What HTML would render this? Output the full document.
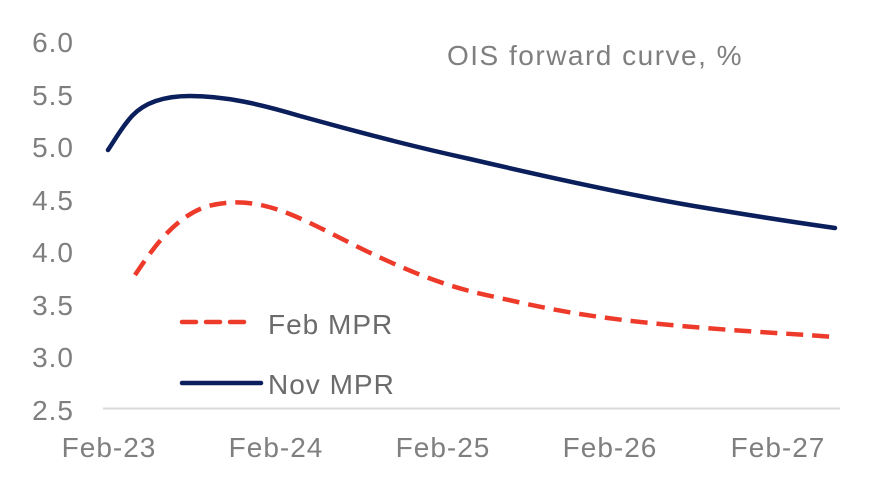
<!DOCTYPE html>
<html><head><style>body{margin:0;background:#fff}</style></head><body>
<svg width="872" height="482" xmlns="http://www.w3.org/2000/svg" font-family="Liberation Sans, sans-serif" fill="#7f7f7f" font-size="28" letter-spacing="1">
<g text-anchor="end">
<text x="74" y="52">6.0</text>
<text x="74" y="105">5.5</text>
<text x="74" y="157">5.0</text>
<text x="74" y="210">4.5</text>
<text x="74" y="262">4.0</text>
<text x="74" y="315">3.5</text>
<text x="74" y="367">3.0</text>
<text x="74" y="420">2.5</text>
</g>
<line x1="103" y1="408.5" x2="840" y2="408.5" stroke="#d9d9d9" stroke-width="2"/>
<g text-anchor="middle">
<text x="109" y="457">Feb-23</text>
<text x="276" y="457">Feb-24</text>
<text x="443" y="457">Feb-25</text>
<text x="610" y="457">Feb-26</text>
<text x="778" y="457">Feb-27</text>
</g>
<text x="447" y="65" letter-spacing="1.5">OIS forward curve, %</text>
<path d="M108,150 C116,138 122,127 132,116 C145,102 165,96 190,96 C225,96 260,104 300,116 C380,138 420,148 470,159 C560,180 640,197 700,207 C760,217 800,223 835,228" fill="none" stroke="#0a1f5c" stroke-width="4.5" stroke-linecap="round"/>
<path d="M135,275 C155,245 175,218 205,207 C225,201 245,201 265,206 C300,214 340,240 390,262 C430,280 460,290 500,298 C560,312 600,318 660,324 C720,330 780,333 835,337" fill="none" stroke="#ee3a2a" stroke-width="4.5" stroke-dasharray="17,9"/>
<line x1="182" y1="322" x2="253" y2="322" stroke="#ee3a2a" stroke-width="4.5" stroke-linecap="round" stroke-dasharray="14,10"/>
<line x1="182" y1="383" x2="261" y2="383" stroke="#0a1f5c" stroke-width="4.5" stroke-linecap="round"/>
<text x="268" y="334" fill="#6b6b6b">Feb MPR</text>
<text x="268" y="394" fill="#6b6b6b">Nov MPR</text>
</svg>
</body></html>
